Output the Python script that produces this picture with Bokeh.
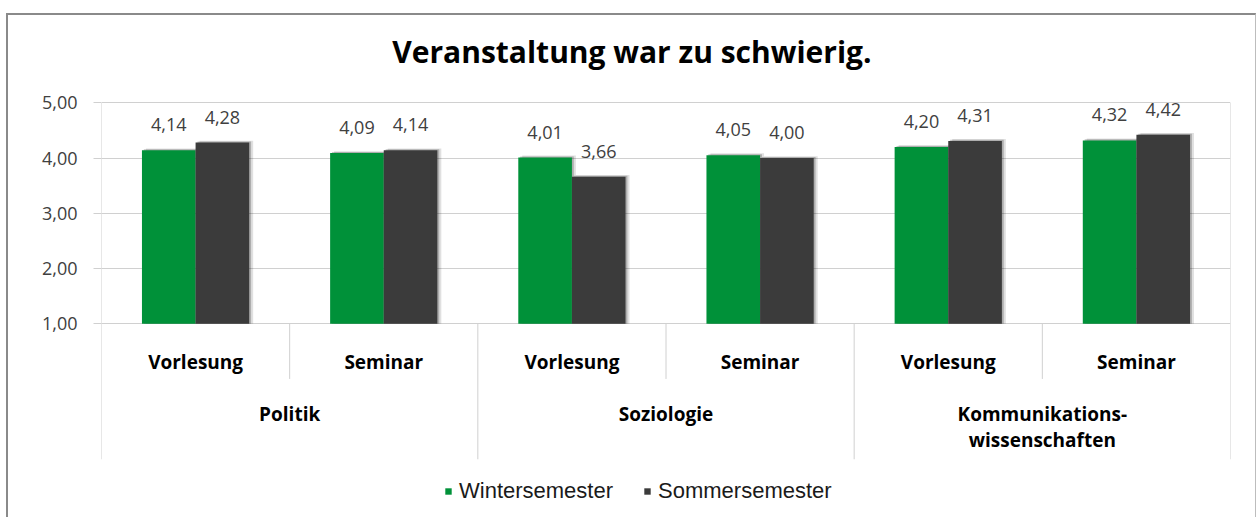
import numpy as np
from bokeh.plotting import figure
from bokeh.models import Range1d, FixedTicker, Legend, LegendItem, CustomJSTickFormatter
from bokeh.core.properties import value
from bokeh.embed import file_html
from bokeh.resources import INLINE

# ---- data ----
title_text = "Veranstaltung war zu schwierig."
groups = ["Politik", "Soziologie", "Kommunikations-\nwissenschaften"]
subcats = ["Vorlesung", "Seminar"]
series_names = ["Wintersemester", "Sommersemester"]
winter = [4.14, 4.09, 4.01, 4.05, 4.20, 4.32]
summer = [4.28, 4.14, 3.66, 4.00, 4.31, 4.42]
y_ticks = [1, 2, 3, 4, 5]
colors = ["#009139", "#3b3b3b"]

FONT = "Open Sans"
W, H = 1247, 502            # canvas size (inside the CSS border)
LEFT, RIGHT = 93, 28
TOP_PX = 87                 # distance from canvas top to the 5,00 grid line
PX_PER_UNIT = 55
Y_END = 5 + TOP_PX / PX_PER_UNIT
Y0 = 5 - (H - TOP_PX) / PX_PER_UNIT   # frame covers the full canvas height
YSEP = 1 - 135 / PX_PER_UNIT          # bottom end of the category separators
n_cat = len(groups) * len(subcats)
nsub = len(subcats)

p = figure(width=W, height=H, output_backend="svg", toolbar_location=None,
           x_range=Range1d(0, n_cat), y_range=Range1d(Y0, Y_END),
           x_axis_location=None, title_location=None,
           min_border_left=LEFT, min_border_right=RIGHT, min_border_top=0,
           min_border_bottom=0)
p.outline_line_color = None
p.background_fill_color = "white"
p.border_fill_color = "white"
p.styles = {"margin-left": "6px", "margin-top": "13px",
            "border-left": "2px solid #8a8a8a", "border-top": "2px solid #8a8a8a",
            "border-right": "1px solid #bdbdbd", "box-sizing": "content-box"}

# title (drawn as text at the top of the chart area, centred on the chart box)
p.text(x=[(631 - 102) / 187.67], y=[5 + (103 - 52) / PX_PER_UNIT], text=[title_text],
       text_align="center", text_baseline="middle", text_font=value(FONT),
       text_font_size="30px", text_font_style="bold", text_color="#000000")

# y axis
yax = p.yaxis[0]
yax.ticker = FixedTicker(ticks=y_ticks)
yax.formatter = CustomJSTickFormatter(code="return tick.toFixed(2).replace('.', ',');")
yax.axis_line_color = None
yax.major_tick_line_color = "#d0d0d0"
yax.major_tick_out = 8
yax.major_tick_in = 0
yax.minor_tick_line_color = None
yax.major_label_text_font = FONT
yax.major_label_text_font_size = "18px"
yax.major_label_text_color = "#404040"
yax.major_label_standoff = 16

for g in p.ygrid:
    g.ticker = FixedTicker(ticks=y_ticks)
    g.grid_line_color = "#d0d0d0"
for g in p.xgrid:
    g.visible = False

idx = np.arange(n_cat)
BW = 0.285
xw = idx + 0.5 - BW / 2
xs = idx + 0.5 + BW / 2

# separators of the category axis and the frame edges
long_x = [g * nsub for g in range(len(groups) + 1)]
short_x = [g * nsub + k for g in range(len(groups)) for k in range(1, nsub)]
p.segment(x0=long_x, x1=long_x, y0=[1] * len(long_x), y1=[YSEP] * len(long_x),
          line_color="#d0d0d0", line_width=1)
p.segment(x0=short_x, x1=short_x, y0=[1] * len(short_x), y1=[0] * len(short_x),
          line_color="#d0d0d0", line_width=1)
p.segment(x0=[0, n_cat], x1=[0, n_cat], y0=[1, 1], y1=[5, 5],
          line_color="#d0d0d0", line_width=1)

# shadows
w_arr = np.array(winter)
s_arr = np.array(summer)
for dx, dt, a in [(0.010, 0.02, 0.22), (0.021, 0.035, 0.12)]:
    p.vbar(x=xw + dx, top=w_arr + dt, bottom=1, width=BW, fill_color="black",
           fill_alpha=a, line_color=None)
    p.vbar(x=xs + dx, top=s_arr + dt, bottom=1, width=BW, fill_color="black",
           fill_alpha=a, line_color=None)

r_w = p.vbar(x=xw, top=winter, bottom=1, width=BW, fill_color=colors[0], line_color=None)
r_s = p.vbar(x=xs, top=summer, bottom=1, width=BW, fill_color=colors[1], line_color=None)

# data labels
def fmt(v):
    return f"{v:.2f}".replace(".", ",")

for xx, vals in [(xw, winter), (xs, summer)]:
    p.text(x=xx, y=vals, text=[fmt(v) for v in vals], text_align="center",
           text_baseline="bottom", y_offset=-19, text_font=value(FONT),
           text_font_size="18px", text_color="#404040")

# category labels
p.text(x=idx + 0.5, y=[1 - 38 / PX_PER_UNIT] * n_cat, text=[subcats[i % nsub] for i in idx],
       text_align="center", text_baseline="middle", text_font=value(FONT),
       text_font_size="19px", text_font_style="bold", text_color="#000000")
p.text(x=[g * nsub + nsub / 2 for g in range(len(groups))],
       y=[1 - 77 / PX_PER_UNIT] * len(groups),
       text=groups, text_align="center", text_baseline="top", text_font=value(FONT),
       text_font_size="19px", text_font_style="bold", text_color="#000000",
       text_line_height=1.0)

# legend
legend = Legend(items=[LegendItem(label=series_names[0], renderers=[r_w]),
                       LegendItem(label=series_names[1], renderers=[r_s])],
                location=(343, 15), orientation="horizontal",
                border_line_color=None, background_fill_alpha=0,
                glyph_width=8, glyph_height=8, label_standoff=7, spacing=30,
                padding=0, margin=0, label_height=20,
                label_text_font="Liberation Sans", label_text_font_size="22px",
                label_text_color="#1a1a1a")
p.add_layout(legend)

open("out.html", "w").write(file_html(p, INLINE))
